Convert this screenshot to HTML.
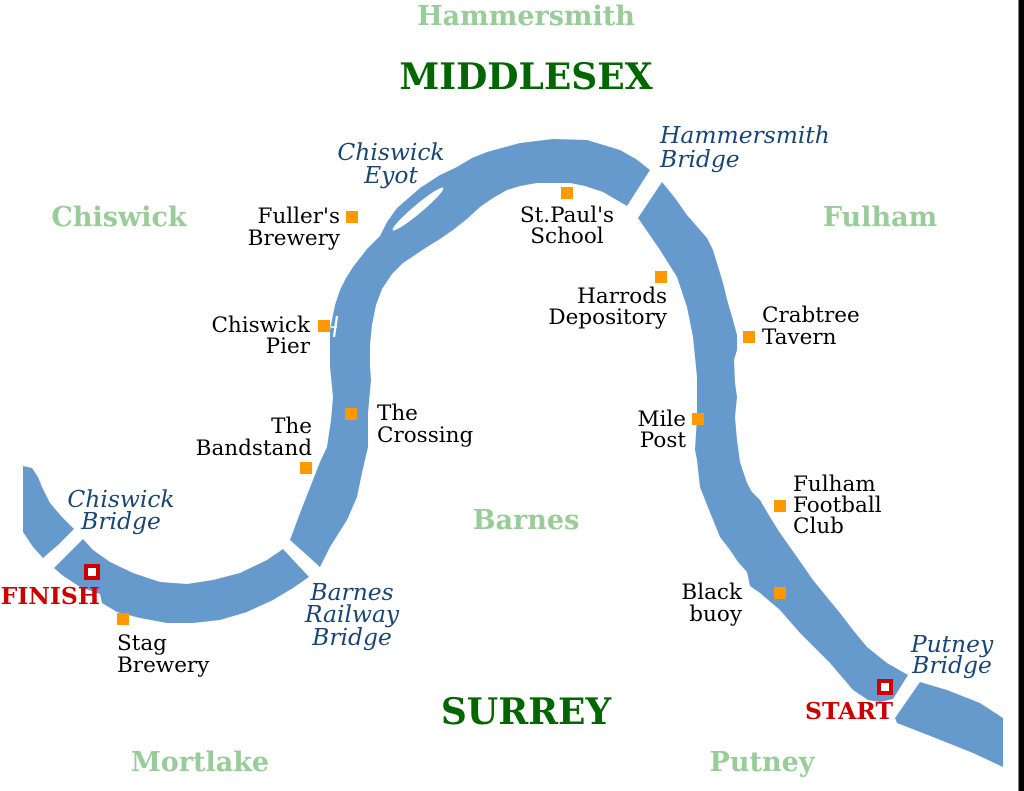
<!DOCTYPE html>
<html><head><meta charset="utf-8"><style>
html,body{margin:0;padding:0;background:#fff;}
svg{display:block;}
.d{font-family:"DejaVu Serif","Liberation Serif",serif;font-weight:bold;font-size:27px;fill:#99CC99;text-anchor:middle;}
.c{font-family:"DejaVu Serif","Liberation Serif",serif;font-weight:bold;font-size:36px;fill:#006600;text-anchor:middle;}
.p{font-family:"DejaVu Serif","Liberation Serif",serif;font-size:21.5px;fill:#000;}
.b{font-family:"DejaVu Serif","Liberation Serif",serif;font-style:italic;font-size:23.4px;fill:#1a4673;}
.r{font-family:"DejaVu Serif","Liberation Serif",serif;font-weight:bold;font-size:23.5px;fill:#CC0000;}
.e{text-anchor:end;}.m{text-anchor:middle;}
</style></head><body>
<svg width="1024" height="791" viewBox="0 0 1024 791" xmlns="http://www.w3.org/2000/svg">
<rect width="1024" height="791" fill="#fff"/>
<g fill="#6699CC">
<polygon points="23,466 32,468 38,477 42,487 50,503 62,517 74,529 58,545 43,558 33,547 23,532"/>
<polygon points="83,539 54,568 62,575 80,587 100,594 102,603 117,612 140,618 167,623 193,623 220,620 247,612 273,600 293,588 309,577 283,549 267,560 240,573 213,580 187,584 160,582 133,573 110,562 93,550"/>
<polygon points="290,540 300,513 313,480 320,462 327,447 331,420 333,397 330,367 330,330 335,305 340,290 346,278 353,267 367,249 380,236 387,222 397,208 420,188 440,175 457,167 472,158 487,152 520,143 553,139 587,140 620,150 636,159 650,170 627,206 603,192 585,186 570,183 537,183 520,186 507,190 493,198 480,207 467,219 453,230 440,239 427,247 415,255 403,263 392,274 382,289 376,305 372,325 370,345 370,365 371,380 368,413 368,447 362,473 357,497 347,520 330,547 320,567"/>
<polygon points="662,182 675,198 687,215 700,230 707,238 713,250 717,263 723,283 728,303 733,320 737,335 737,350 734,360 735,383 737,397 735,417 737,440 740,462 747,483 752,492 760,500 770,517 780,533 797,557 813,580 826,596 840,613 853,630 867,647 887,663 908,675 893,699 880,702 868,700 853,690 830,663 800,633 780,610 760,593 750,586 747,572 738,562 730,550 720,537 707,505 700,487 697,460 695,450 697,417 697,377 693,337 687,307 677,277 660,250 638,218"/>
<polygon points="920,682 947,690 980,703 1003,718 1003,767 973,753 933,737 897,723 895,718"/>
</g>
<ellipse cx="418" cy="209" rx="33" ry="4.4" fill="#fff" transform="rotate(-40 418 209)"/>
<path d="M337,316 L334,337" stroke="#fff" stroke-width="2.2" fill="none"/>
<path d="M331,327 L337,327" stroke="#fff" stroke-width="1.5" fill="none"/>
<rect x="1018.5" y="0" width="5.5" height="791" fill="#000"/>

<text x="526" y="25" class="d">Hammersmith</text>
<text x="526" y="89" class="c">MIDDLESEX</text>
<text x="119" y="226" class="d">Chiswick</text>
<text x="880" y="226" class="d">Fulham</text>
<text x="526" y="529" class="d">Barnes</text>
<text x="526" y="724" class="c">SURREY</text>
<text x="200" y="771" class="d">Mortlake</text>
<text x="762" y="771" class="d">Putney</text>

<g fill="#FF9900">
<rect x="346" y="211" width="12" height="12"/>
<rect x="318" y="320" width="12" height="12"/>
<rect x="300" y="462" width="12" height="12"/>
<rect x="345" y="408" width="12" height="12"/>
<rect x="561" y="187" width="12" height="12"/>
<rect x="655" y="271" width="12" height="12"/>
<rect x="743" y="331" width="12" height="12"/>
<rect x="692" y="413" width="12" height="12"/>
<rect x="774" y="500" width="12" height="12"/>
<rect x="774" y="587" width="12" height="12"/>
<rect x="117" y="613" width="12" height="12"/>
</g>
<rect x="879" y="681" width="12" height="12" fill="#fff" stroke="#CC0000" stroke-width="4"/>
<rect x="86" y="566" width="12" height="12" fill="#fff" stroke="#CC0000" stroke-width="4"/>

<text class="p e" x="340" y="223">Fuller's</text>
<text class="p e" x="340" y="245">Brewery</text>
<text class="p e" x="310" y="332">Chiswick</text>
<text class="p e" x="310" y="353">Pier</text>
<text class="p e" x="312" y="433">The</text>
<text class="p e" x="312" y="455">Bandstand</text>
<text class="p" x="377" y="420">The</text>
<text class="p" x="377" y="442">Crossing</text>
<text class="p m" x="567" y="222">St.Paul's</text>
<text class="p m" x="567" y="243">School</text>
<text class="p e" x="667" y="303">Harrods</text>
<text class="p e" x="667" y="324">Depository</text>
<text class="p" x="762" y="322">Crabtree</text>
<text class="p" x="762" y="344">Tavern</text>
<text class="p e" x="686" y="426">Mile</text>
<text class="p e" x="686" y="447">Post</text>
<text class="p" x="793" y="491">Fulham</text>
<text class="p" x="793" y="512">Football</text>
<text class="p" x="793" y="533">Club</text>
<text class="p e" x="742" y="599">Black</text>
<text class="p e" x="742" y="621">buoy</text>
<text class="p" x="117" y="650">Stag</text>
<text class="p" x="117" y="672">Brewery</text>

<text class="b m" x="391" y="160">Chiswick</text>
<text class="b m" x="391" y="183">Eyot</text>
<text class="b" x="660" y="143">Hammersmith</text>
<text class="b" x="660" y="167">Bridge</text>
<text class="b m" x="121" y="507">Chiswick</text>
<text class="b m" x="121" y="529">Bridge</text>
<text class="b m" x="352" y="600">Barnes</text>
<text class="b m" x="352" y="622">Railway</text>
<text class="b m" x="352" y="645">Bridge</text>
<text class="b m" x="952" y="652">Putney</text>
<text class="b m" x="952" y="673">Bridge</text>

<text class="r e" x="893" y="719">START</text>
<text class="r e" x="100" y="604">FINISH</text>
</svg>
</body></html>
